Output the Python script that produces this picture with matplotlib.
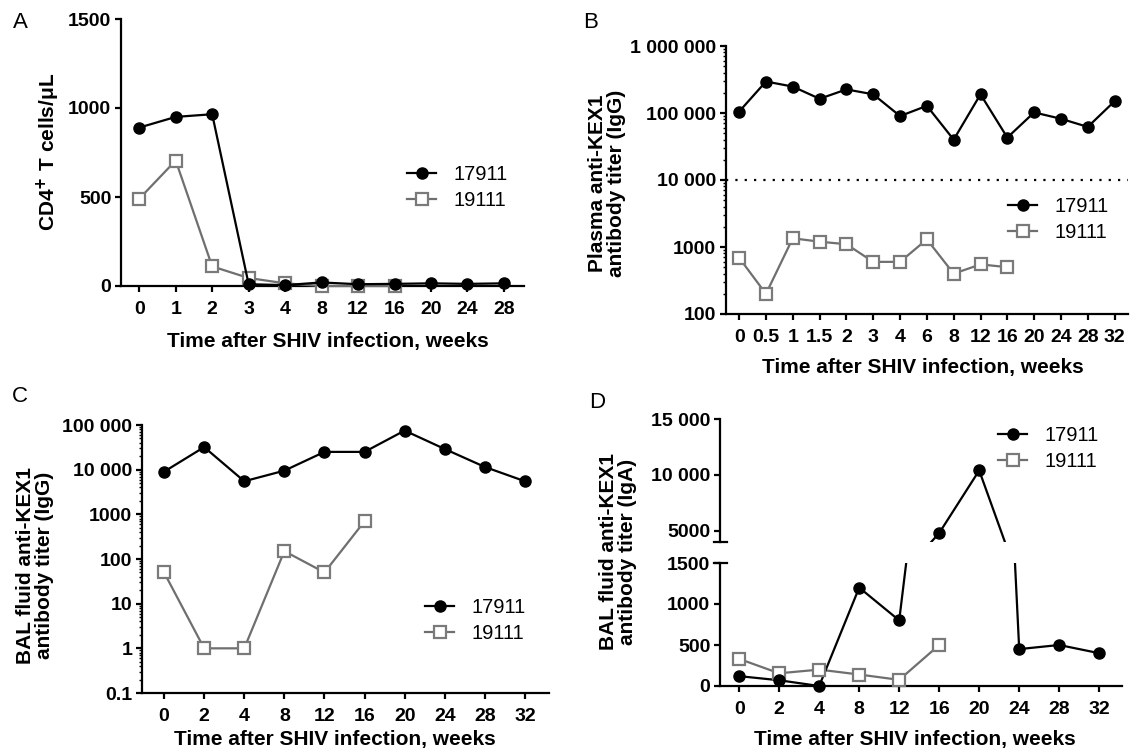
import numpy as np
import matplotlib
matplotlib.use("Agg")
import matplotlib.pyplot as plt
from matplotlib.lines import Line2D
from matplotlib.ticker import FixedLocator, LogLocator, NullFormatter

# ==========================================
# 1. DATA
# ==========================================
# Panel A: CD4+ T cells/uL
a_weeks = ["0", "1", "2", "3", "4", "8", "12", "16", "20", "24", "28"]
a_17911 = [890, 950, 965, 10, 5, 20, 10, 12, 15, 12, 15]
a_19111 = [490, 705, 110, 45, 15, 0, 0, 0]

# Panel B: plasma anti-KEX1 IgG titer
b_weeks = ["0", "0.5", "1", "1.5", "2", "3", "4", "6", "8", "12", "16", "20", "24", "28", "32"]
b_17911 = [105000, 295000, 248000, 163000, 225000, 190000, 90000, 128000,
           40000, 190000, 43000, 102000, 82000, 62000, 150000]
b_19111 = [690, 200, 1350, 1200, 1100, 600, 600, 1300, 400, 550, 500]
b_cutoff = 10000

# Panel C: BAL fluid anti-KEX1 IgG titer
c_weeks = ["0", "2", "4", "8", "12", "16", "20", "24", "28", "32"]
c_17911 = [9000, 32000, 5500, 9500, 25000, 25000, 75000, 29000, 11500, 5500]
c_19111 = [50, 1, 1, 150, 50, 700]

# Panel D: BAL fluid anti-KEX1 IgA titer (broken axis)
d_weeks = ["0", "2", "4", "8", "12", "16", "20", "24", "28", "32"]
d_17911 = [120, 70, 0, 1200, 800, 4800, 10400, 450, 500, 400]
d_19111 = [330, 155, 200, 140, 75, 500]

animals = ["17911", "19111"]

# ==========================================
# 2. STYLE
# ==========================================
plt.rcParams["font.family"] = ["Liberation Sans", "DejaVu Sans"]
plt.rcParams["axes.linewidth"] = 1.6
plt.rcParams["xtick.major.width"] = 1.6
plt.rcParams["ytick.major.width"] = 1.6
plt.rcParams["xtick.major.size"] = 4
plt.rcParams["ytick.major.size"] = 4
plt.rcParams["ytick.minor.width"] = 1.0
plt.rcParams["ytick.minor.size"] = 2.2

W, H = 1130, 755
TICK_FS = 14
LABEL_FS = 15
LEG_FS = 14.5

black_style = dict(color="black", lw=1.6, marker="o", ms=8, mfc="black",
                   mec="black", zorder=4)
gray_style = dict(color="#6f6f6f", lw=1.6, marker="s", ms=8, mfc="white",
                  mec="#7a7a7a", mew=1.6, zorder=3)

fig = plt.figure(figsize=(W / 100, H / 100), dpi=100)


def box(l, t, r, b):
    return [l / W, 1 - b / H, (r - l) / W, (b - t) / H]


def style_axes(ax, labels, bottom=True):
    for s in ["top", "right"]:
        ax.spines[s].set_visible(False)
    if bottom:
        ax.set_xticks(range(len(labels)))
        ax.set_xticklabels(labels, fontsize=TICK_FS, fontweight="bold")
        ax.tick_params(axis="x", direction="out", pad=6.5)
    ax.tick_params(axis="y", which="both", direction="out", pad=3,
                   labelsize=TICK_FS)
    for lab in ax.get_yticklabels():
        lab.set_fontweight("bold")


def add_legend(ax, handles, x, y):
    ax.legend(handles, animals, loc="upper left",
              bbox_to_anchor=(x / W, 1 - y / H), bbox_transform=fig.transFigure,
              frameon=False, fontsize=LEG_FS, borderpad=0, borderaxespad=0,
              handlelength=1.45, handletextpad=0.85, labelspacing=0.35)


def ylabel(x, y, text):
    fig.text(x / W, 1 - y / H, text, rotation=90, ha="center", va="center",
             fontsize=LABEL_FS, fontweight="bold", multialignment="center",
             linespacing=1.05)


def xlabel(x, y, text):
    fig.text(x / W, 1 - y / H, text, ha="center", va="center",
             fontsize=LABEL_FS, fontweight="bold")


def panel(x, y, letter):
    fig.text(x / W, 1 - y / H, letter, ha="center", va="center", fontsize=16)


xtitle = "Time after SHIV infection, weeks"

# ==========================================
# 3. PANEL A
# ==========================================
axA = fig.add_axes(box(121, 19, 524, 286))
hb = axA.plot(range(len(a_17911)), a_17911, clip_on=False, **black_style)[0]
hg = axA.plot(range(len(a_19111)), a_19111, clip_on=False, **gray_style)[0]
axA.set_xlim(-0.5, 10.55)
axA.set_ylim(0, 1500)
axA.set_yticks([0, 500, 1000, 1500])
style_axes(axA, a_weeks)
add_legend(axA, [hb, hg], 407, 165)
ylabel(48, 152, "CD4$^{\\mathbf{+}}$ T cells/μL")
xlabel(328, 342, xtitle)
panel(20, 22, "A")

# ==========================================
# 4. PANEL B
# ==========================================
axB = fig.add_axes(box(726, 46, 1128, 314))
hb = axB.plot(range(len(b_17911)), b_17911, clip_on=False, **black_style)[0]
hg = axB.plot(range(len(b_19111)), b_19111, clip_on=False, **gray_style)[0]
axB.axhline(b_cutoff, color="black", lw=1.6, ls=(0, (1, 3.2)), zorder=1)
axB.set_yscale("log")
axB.set_xlim(-0.49, 14.5)
axB.set_ylim(100, 1e6)
b_ticks = [100, 1000, 10000, 100000, 1000000]
axB.yaxis.set_major_locator(FixedLocator(b_ticks))
axB.set_yticklabels(["100", "1000", "10 000", "100 000", "1 000 000"])
axB.yaxis.set_minor_locator(LogLocator(base=10, subs=np.arange(2, 10), numticks=50))
axB.yaxis.set_minor_formatter(NullFormatter())
style_axes(axB, b_weeks)
add_legend(axB, [hb, hg], 1008, 197)
ylabel(607, 183, "Plasma anti-KEX1\nantibody titer (IgG)")
xlabel(923, 368, xtitle)
panel(591, 22, "B")

# ==========================================
# 5. PANEL C
# ==========================================
axC = fig.add_axes(box(142, 425, 549, 693))
hb = axC.plot(range(len(c_17911)), c_17911, clip_on=False, **black_style)[0]
hg = axC.plot(range(len(c_19111)), c_19111, clip_on=False, **gray_style)[0]
axC.set_yscale("log")
axC.set_xlim(-0.55, 9.6)
axC.set_ylim(0.1, 1e5)
c_ticks = [0.1, 1, 10, 100, 1000, 10000, 100000]
axC.yaxis.set_major_locator(FixedLocator(c_ticks))
axC.set_yticklabels(["0.1", "1", "10", "100", "1000", "10 000", "100 000"])
axC.yaxis.set_minor_locator(LogLocator(base=10, subs=np.arange(2, 10), numticks=50))
axC.yaxis.set_minor_formatter(NullFormatter())
style_axes(axC, c_weeks)
add_legend(axC, [hb, hg], 425, 598)
ylabel(35, 565, "BAL fluid anti-KEX1\nantibody titer (IgG)")
xlabel(335, 740, xtitle)
panel(20, 397, "C")

# ==========================================
# 6. PANEL D (broken y axis)
# ==========================================
d_low, d_high = (0, 1500), (4000, 15000)
axD_top = fig.add_axes(box(720, 419, 1122, 542))
axD = fig.add_axes(box(720, 563, 1122, 686))
xd = np.arange(len(d_17911))
xg = np.arange(len(d_19111))
d17 = np.array(d_17911)
d19 = np.array(d_19111)

for ax, (lo, hi) in [(axD, d_low), (axD_top, d_high)]:
    # lines clipped to each segment, markers drawn only where they belong
    ax.plot(xd, d17, color="black", lw=1.6, zorder=4)
    ax.plot(xg, d19, color=gray_style["color"], lw=1.6, zorder=3)
    m17 = (d17 >= lo) & (d17 <= hi)
    m19 = (d19 >= lo) & (d19 <= hi)
    ax.plot(xd[m17], d17[m17], ls="none", marker="o", ms=8, color="black",
            clip_on=False, zorder=5)
    ax.plot(xg[m19], d19[m19], ls="none", marker="s", ms=8, mfc="white",
            mec="#7a7a7a", mew=1.6, clip_on=False, zorder=4)
    ax.set_xlim(-0.48, 9.57)
    ax.set_ylim(lo, hi)

axD.set_yticks([0, 500, 1000, 1500])
style_axes(axD, d_weeks)
axD_top.set_yticks([5000, 10000, 15000])
axD_top.set_yticklabels(["5000", "10 000", "15 000"])
axD_top.spines["bottom"].set_visible(False)
axD_top.set_xticks([])
style_axes(axD_top, d_weeks, bottom=False)

# small break marks across the y spine
for yb in (542, 563):
    fig.add_artist(Line2D([714 / W, 727 / W], [1 - yb / H, 1 - yb / H],
                          color="black", lw=1.6))

hb = Line2D([], [], **{k: v for k, v in black_style.items() if k != "zorder"})
hg = Line2D([], [], **{k: v for k, v in gray_style.items() if k != "zorder"})
add_legend(axD_top, [hb, hg], 998, 426)
ylabel(618, 552, "BAL fluid anti-KEX1\nantibody titer (IgA)")
xlabel(915, 739, xtitle)
panel(597, 403, "D")

fig.savefig("out.png", dpi=100)
